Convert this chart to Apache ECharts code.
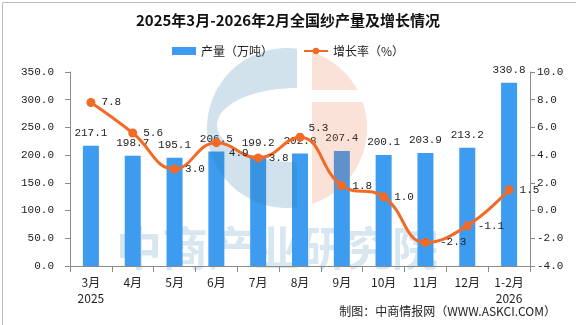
<!DOCTYPE html>
<html><head><meta charset="utf-8">
<script src="https://cdn.jsdelivr.net/npm/echarts@6/dist/echarts.min.js"></script>
<style>html,body{margin:0;padding:0;background:#fff}#c{width:576px;height:325px}</style>
</head><body><div id="c"></div>
<script>
const categories = ['3月\n2025','4月','5月','6月','7月','8月','9月','10月','11月','12月','1-2月\n2026'];
const output = [217.1,198.7,195.1,206.5,199.2,202.8,207.4,200.1,203.9,213.2,330.8];
const growth = [7.8,5.6,3.0,4.9,3.8,5.3,1.8,1.0,-2.3,-1.1,1.5];
const leftTicks = [0,350,50];
const rightTicks = [-4,10,2];

const numFont = '"Liberation Mono", monospace';
const cjk = '"Noto Sans CJK SC", sans-serif';

const growthData = growth.map((v,i)=>{
  const d = {value:v};
  if (i===5) d.label = {offset:[-2,-9]};
  if (i===3) d.label = {offset:[2,10]};
  if (i===8) d.label = {offset:[4,0]};
  return d;
});

// decorative watermark logo outlines (background art, not data)
function arcPts(cx,cy,rx,ry,a0,a1,n){const p=[];for(let k=0;k<=n;k++){const a=a0+(a1-a0)*k/n;p.push([cx+rx*Math.cos(a),cy+ry*Math.sin(a)]);}return p;}
const LCX=287, LCY=128, LR=80;
const aTop=Math.atan2(48.6-LCY,297-LCX), aBot=Math.atan2(207.4-LCY,297-LCX);
const bluePts = arcPts(LCX,LCY,LR,LR,aTop+2*Math.PI,aBot,60).concat(arcPts(297,125,80,37,Math.PI/2,3*Math.PI/2,40));
const o1a=Math.atan2(52-LCY,312-LCX), o1b=Math.atan2(90-LCY,357.4-LCX);
const orangeTop = arcPts(LCX,LCY,LR,LR,o1a,o1b,20).concat([[312,90]]);
const o2a=Math.atan2(102-LCY,362.7-LCX), o2b=Math.atan2(204-LCY,312-LCX);
const orangeBot = [[312,102]].concat(arcPts(LCX,LCY,LR,LR,o2a,o2b,40));

const chart = echarts.init(document.getElementById('c'));
chart.setOption({
  animation:false,
  backgroundColor:'#fff',
  title:{text:'2025年3月-2026年2月全国纱产量及增长情况',left:'center',top:8,
    textStyle:{fontFamily:cjk,fontSize:15,fontWeight:'bold',color:'#111'}},
  legend:{top:40,left:'center',itemGap:30,itemWidth:24,itemHeight:8,
    textStyle:{fontFamily:cjk,fontSize:12,color:'#222'},
    data:[{name:'产量（万吨）',icon:'rect'},{name:'增长率（%）'}]},
  graphic:[
    {type:'rect',left:0,top:0,z:-10,silent:true,shape:{width:575,height:324},style:{fill:'none',stroke:'#bbb',lineWidth:1}},
    {type:'text',left:116,top:225,z:0,silent:true,style:{text:'中商产业研究院',font:'bold 46px "Noto Sans CJK SC"',fill:'rgba(40,120,170,0.19)'}},
    {type:'polygon',z:2.5,silent:true,shape:{points:bluePts},style:{fill:'rgba(40,120,170,0.21)'}},
    {type:'polygon',z:2.5,silent:true,shape:{points:orangeTop},style:{fill:'rgba(235,110,60,0.2)'}},
    {type:'polygon',z:2.5,silent:true,shape:{points:orangeBot},style:{fill:'rgba(235,110,60,0.2)'}},
    {type:'text',right:20,top:305,z:5,style:{text:'制图：中商情报网（WWW.ASKCI.COM）',font:'12px "Noto Sans CJK SC"',fill:'#222'}}
  ],
  grid:{left:70,right:46,top:72,bottom:59},
  xAxis:{type:'category',data:categories,
    axisLine:{lineStyle:{color:'#8a8a8a'}},
    axisTick:{show:true,alignWithLabel:false,length:6,lineStyle:{color:'#8a8a8a'}},
    axisLabel:{interval:0,fontFamily:cjk,fontSize:12,color:'#222',lineHeight:16,margin:8}},
  yAxis:[
    {type:'value',min:leftTicks[0],max:leftTicks[1],interval:leftTicks[2],
     axisLine:{show:true,lineStyle:{color:'#8a8a8a'}},axisTick:{show:true,length:5,lineStyle:{color:'#8a8a8a'}},
     splitLine:{show:false},
     axisLabel:{formatter:v=>v.toFixed(1),fontFamily:numFont,fontSize:11,color:'#222',margin:16}},
    {type:'value',min:rightTicks[0],max:rightTicks[1],interval:rightTicks[2],position:'right',
     axisLine:{show:true,lineStyle:{color:'#8a8a8a'}},axisTick:{show:true,length:5,lineStyle:{color:'#8a8a8a'}},
     splitLine:{show:false},
     axisLabel:{formatter:v=>v.toFixed(1),fontFamily:numFont,fontSize:11,color:'#222',margin:7}}
  ],
  series:[
    {name:'产量（万吨）',type:'bar',data:output,barWidth:16,yAxisIndex:0,z:2,
     itemStyle:{color:'#3d9cf0'},
     label:{show:true,position:'top',distance:7,formatter:p=>p.value.toFixed(1),fontFamily:numFont,fontSize:11,color:'#222'}},
    {name:'增长率（%）',type:'line',data:growthData,yAxisIndex:1,smooth:0.45,z:4,
     symbol:'circle',symbolSize:9,
     lineStyle:{color:'#f36a26',width:3},itemStyle:{color:'#f36a26'},
     label:{show:true,position:'right',distance:6,formatter:p=>p.value.toFixed(1),fontFamily:numFont,fontSize:11,color:'#222'}}
  ]
});
</script></body></html>
